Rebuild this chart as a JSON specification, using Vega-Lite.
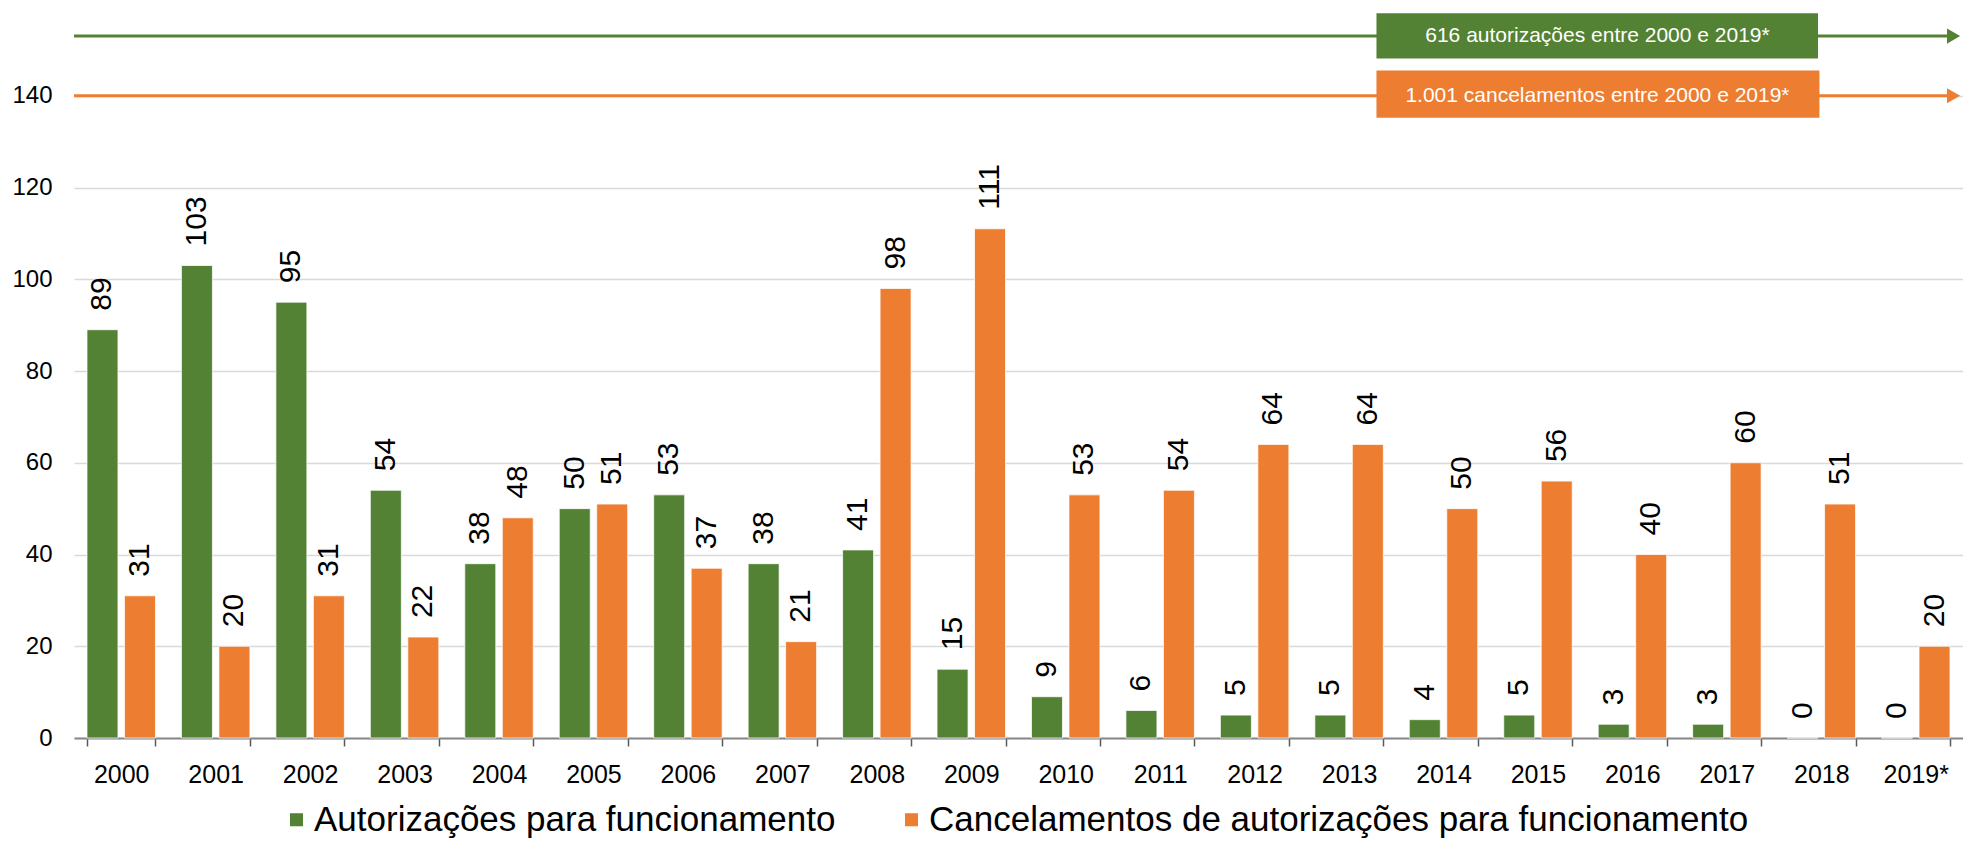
{
  "$schema": "https://vega.github.io/schema/vega-lite/v6.json",
  "width": 1889,
  "height": 734,
  "autosize": {"type": "none"},
  "padding": {"left": 74, "top": 4, "right": 0, "bottom": 105},
  "background": "#ffffff",
  "config": {"view": {"stroke": null}, "font": "Liberation Sans"},
  "datasets": {
    "dados": [
      {"ano": "2000", "serie": "Autorizações para funcionamento", "valor": 89},
      {"ano": "2000", "serie": "Cancelamentos de autorizações para funcionamento", "valor": 31},
      {"ano": "2001", "serie": "Autorizações para funcionamento", "valor": 103},
      {"ano": "2001", "serie": "Cancelamentos de autorizações para funcionamento", "valor": 20},
      {"ano": "2002", "serie": "Autorizações para funcionamento", "valor": 95},
      {"ano": "2002", "serie": "Cancelamentos de autorizações para funcionamento", "valor": 31},
      {"ano": "2003", "serie": "Autorizações para funcionamento", "valor": 54},
      {"ano": "2003", "serie": "Cancelamentos de autorizações para funcionamento", "valor": 22},
      {"ano": "2004", "serie": "Autorizações para funcionamento", "valor": 38},
      {"ano": "2004", "serie": "Cancelamentos de autorizações para funcionamento", "valor": 48},
      {"ano": "2005", "serie": "Autorizações para funcionamento", "valor": 50},
      {"ano": "2005", "serie": "Cancelamentos de autorizações para funcionamento", "valor": 51},
      {"ano": "2006", "serie": "Autorizações para funcionamento", "valor": 53},
      {"ano": "2006", "serie": "Cancelamentos de autorizações para funcionamento", "valor": 37},
      {"ano": "2007", "serie": "Autorizações para funcionamento", "valor": 38},
      {"ano": "2007", "serie": "Cancelamentos de autorizações para funcionamento", "valor": 21},
      {"ano": "2008", "serie": "Autorizações para funcionamento", "valor": 41},
      {"ano": "2008", "serie": "Cancelamentos de autorizações para funcionamento", "valor": 98},
      {"ano": "2009", "serie": "Autorizações para funcionamento", "valor": 15},
      {"ano": "2009", "serie": "Cancelamentos de autorizações para funcionamento", "valor": 111},
      {"ano": "2010", "serie": "Autorizações para funcionamento", "valor": 9},
      {"ano": "2010", "serie": "Cancelamentos de autorizações para funcionamento", "valor": 53},
      {"ano": "2011", "serie": "Autorizações para funcionamento", "valor": 6},
      {"ano": "2011", "serie": "Cancelamentos de autorizações para funcionamento", "valor": 54},
      {"ano": "2012", "serie": "Autorizações para funcionamento", "valor": 5},
      {"ano": "2012", "serie": "Cancelamentos de autorizações para funcionamento", "valor": 64},
      {"ano": "2013", "serie": "Autorizações para funcionamento", "valor": 5},
      {"ano": "2013", "serie": "Cancelamentos de autorizações para funcionamento", "valor": 64},
      {"ano": "2014", "serie": "Autorizações para funcionamento", "valor": 4},
      {"ano": "2014", "serie": "Cancelamentos de autorizações para funcionamento", "valor": 50},
      {"ano": "2015", "serie": "Autorizações para funcionamento", "valor": 5},
      {"ano": "2015", "serie": "Cancelamentos de autorizações para funcionamento", "valor": 56},
      {"ano": "2016", "serie": "Autorizações para funcionamento", "valor": 3},
      {"ano": "2016", "serie": "Cancelamentos de autorizações para funcionamento", "valor": 40},
      {"ano": "2017", "serie": "Autorizações para funcionamento", "valor": 3},
      {"ano": "2017", "serie": "Cancelamentos de autorizações para funcionamento", "valor": 60},
      {"ano": "2018", "serie": "Autorizações para funcionamento", "valor": 0},
      {"ano": "2018", "serie": "Cancelamentos de autorizações para funcionamento", "valor": 51},
      {"ano": "2019*", "serie": "Autorizações para funcionamento", "valor": 0},
      {"ano": "2019*", "serie": "Cancelamentos de autorizações para funcionamento", "valor": 20}
    ],
    "anotacoes": [
      {"serie": "Autorizações para funcionamento", "nivel": 153, "x_ini": 0, "x_fim": 19.86, "ponta": 19.9, "cx0": 13.79, "cx1": 18.465, "cy0": 148.1, "cy1": 158, "cx": 16.13, "rotulo": "616 autorizações entre 2000 e 2019*"},
      {"serie": "Cancelamentos de autorizações para funcionamento", "nivel": 140, "x_ini": 0, "x_fim": 19.86, "ponta": 19.9, "cx0": 13.79, "cx1": 18.48, "cy0": 135.2, "cy1": 145.5, "cx": 16.13, "rotulo": "1.001 cancelamentos entre 2000 e 2019*"}
    ]
  },
  "layer": [
    {
      "data": {"name": "dados"},
      "encoding": {
        "x": {
          "field": "ano", "type": "nominal", "sort": null, "title": null,
          "scale": {"paddingInner": 0.275, "paddingOuter": 0.1375},
          "axis": {"labelAngle": 0, "tickBand": "extent", "labelFontSize": 25, "labelColor": "#000000", "labelFont": "Liberation Sans", "tickColor": "#595959", "tickSize": 8, "tickWidth": 1.5, "domainColor": "#878787", "domainWidth": 2, "labelPadding": 16}
        },
        "xOffset": {
          "field": "serie", "type": "nominal",
          "scale": {"domain": ["Autorizações para funcionamento", "Cancelamentos de autorizações para funcionamento"], "paddingInner": 0.173}
        },
        "y": {
          "field": "valor", "type": "quantitative", "title": null,
          "scale": {"domain": [0, 160], "nice": false},
          "axis": {"values": [0, 20, 40, 60, 80, 100, 120, 140], "grid": true, "gridColor": "#d9d9d9", "gridWidth": 1.5, "domain": false, "ticks": false, "labelFontSize": 24, "labelPadding": 22, "labelColor": "#000000", "labelFont": "Liberation Sans"}
        }
      },
      "layer": [
        {
          "mark": {"type": "bar", "stroke": "#ffffff", "strokeWidth": 0.75},
          "encoding": {
            "color": {
              "field": "serie", "type": "nominal",
              "scale": {"domain": ["Autorizações para funcionamento", "Cancelamentos de autorizações para funcionamento"], "range": ["#548235", "#ED7D31"]},
              "legend": {"title": null, "orient": "none", "legendX": 205, "legendY": 798, "direction": "horizontal", "symbolType": "square", "symbolSize": 170, "symbolStrokeWidth": 0, "labelFontSize": 35, "labelFont": "Liberation Sans", "labelColor": "#000000", "labelLimit": 2000, "columnPadding": 58, "labelOffset": 0}
            }
          }
        },
        {
          "mark": {"type": "text", "angle": 270, "align": "left", "baseline": "middle", "dx": 19, "fontSize": 30, "font": "Liberation Sans", "color": "#000000"},
          "encoding": {"text": {"field": "valor", "type": "quantitative"}}
        }
      ]
    },
    {
      "data": {"name": "anotacoes"},
      "layer": [
        {
          "mark": {"type": "rule", "strokeWidth": 3},
          "encoding": {
            "x": {"field": "x_ini", "type": "quantitative", "scale": {"domain": [0, 20], "nice": false, "zero": false}, "axis": null},
            "x2": {"field": "x_fim"},
            "y": {"field": "nivel", "type": "quantitative", "title": null},
            "color": {"field": "serie", "type": "nominal", "legend": null}
          }
        },
        {
          "mark": {"type": "point", "shape": "triangle-right", "filled": true, "size": 230, "opacity": 1},
          "encoding": {
            "x": {"field": "ponta", "type": "quantitative", "scale": {"domain": [0, 20], "nice": false, "zero": false}, "axis": null},
            "y": {"field": "nivel", "type": "quantitative", "title": null},
            "color": {"field": "serie", "type": "nominal", "legend": null}
          }
        },
        {
          "mark": {"type": "rect"},
          "encoding": {
            "x": {"field": "cx0", "type": "quantitative", "scale": {"domain": [0, 20], "nice": false, "zero": false}, "axis": null},
            "x2": {"field": "cx1"},
            "y": {"field": "cy0", "type": "quantitative", "title": null},
            "y2": {"field": "cy1"},
            "color": {"field": "serie", "type": "nominal", "legend": null}
          }
        },
        {
          "mark": {"type": "text", "align": "center", "baseline": "middle", "fontSize": 21, "font": "Liberation Sans", "color": "#ffffff"},
          "encoding": {
            "x": {"field": "cx", "type": "quantitative", "scale": {"domain": [0, 20], "nice": false, "zero": false}, "axis": null},
            "y": {"field": "nivel", "type": "quantitative", "title": null},
            "text": {"field": "rotulo", "type": "nominal"}
          }
        }
      ]
    }
  ],
  "resolve": {"scale": {"x": "independent"}}
}
